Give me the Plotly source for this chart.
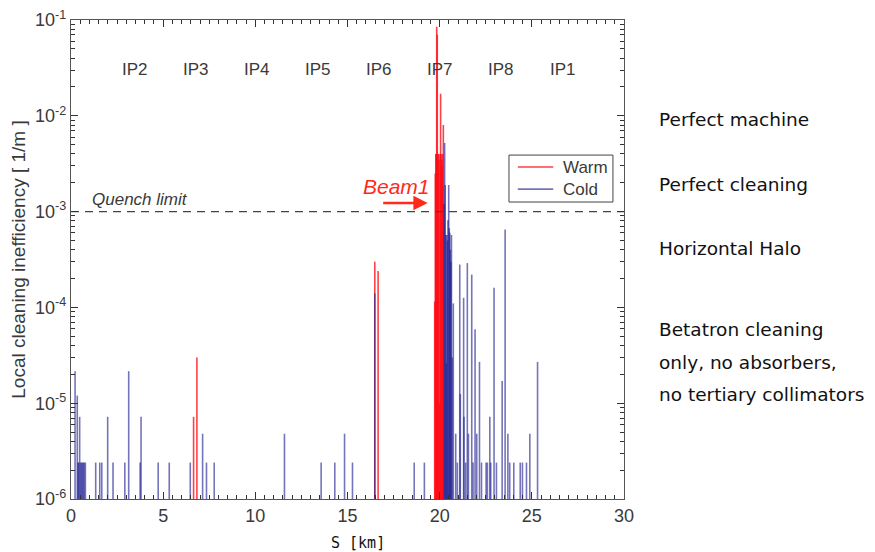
import plotly.graph_objects as go

# ---------------- data (s in km, inefficiency in 1/m) ----------------
warm_s = [6.65, 6.83, 16.48, 16.66,
          19.73, 19.76, 19.79, 19.82, 19.84, 19.87, 19.90, 19.93, 19.96, 19.99,
          20.02, 20.05, 20.08, 20.11, 20.14, 20.17, 20.20]
warm_v = [7.2e-6, 3.0e-5, 3.0e-4, 2.4e-4,
          1.15e-4, 2.5e-3, 4e-3, 4e-3, 8.5e-2, 7.0e-2, 4e-3, 4e-3, 3.5e-3, 1e-5,
          4e-3, 1.7e-2, 4e-3, 3.5e-3, 3e-3, 4e-3, 8e-3]

cold_s = [0.22, 0.34, 0.38, 0.42, 0.47, 0.52, 0.57, 0.62, 0.67, 0.72, 0.78,
          1.34, 1.56, 1.67, 1.99, 2.28, 2.92, 3.13, 3.75, 3.80, 4.73, 5.33,
          6.47, 7.14, 7.35, 7.77, 11.58, 13.57, 14.31, 14.84, 15.27, 16.48,
          18.62, 19.17,
          20.24, 20.27, 20.30, 20.33, 20.36, 20.39, 20.42, 20.45, 20.49, 20.52,
          20.55, 20.58, 20.61, 20.64, 20.68,
          20.74, 20.87, 20.96, 21.09, 21.12, 21.30, 21.32, 21.41, 21.50, 21.56,
          21.74, 21.81, 21.92, 22.01, 22.16, 22.27, 22.52, 22.59, 22.72, 22.77,
          22.95, 23.08, 23.39, 23.55, 23.70, 23.80, 24.02, 24.37, 24.49, 24.71,
          24.89, 25.31]
cold_v = [2.16e-5, 1.2e-5, 2.4e-6, 2.4e-6, 7.2e-6, 2.4e-6, 2.4e-6, 2.4e-6, 2.4e-6, 2.4e-6, 2.4e-6,
          2.4e-6, 2.4e-6, 2.4e-6, 7.2e-6, 2.4e-6, 2.4e-6, 2.16e-5, 2.4e-6, 7.2e-6, 2.4e-6, 2.4e-6,
          2.4e-6, 4.8e-6, 2.4e-6, 2.4e-6, 4.8e-6, 2.4e-6, 2.4e-6, 4.8e-6, 2.4e-6, 1.4e-4,
          2.4e-6, 2.4e-6,
          1.2e-3, 5.2e-3, 1.9e-3, 5.7e-4, 2.6e-5, 5.7e-4, 5.0e-4, 8.1e-4, 1.9e-3, 6.7e-4,
          6.0e-4, 4.0e-4, 3.0e-4, 5.7e-4, 3.0e-5,
          1.1e-4, 4.8e-6, 2.4e-6, 2.8e-4, 1.25e-5, 1.26e-4, 7.2e-6, 2.4e-6, 2.9e-4, 4.8e-6,
          2.2e-4, 2.4e-6, 5.9e-5, 4.8e-6, 2.7e-5, 2.4e-6, 2.4e-6, 2.4e-6, 7.2e-6, 2.4e-6,
          1.6e-4, 2.4e-6, 1.7e-5, 6.5e-4, 4.8e-6, 2.4e-6, 2.4e-6, 2.4e-6, 2.4e-6, 2.4e-6,
          4.8e-6, 2.7e-5]

series_names = ["Warm", "Cold"]
series_colors = ["rgba(255,10,20,0.78)", "rgba(30,30,145,0.62)"]

ip_labels = ["IP2", "IP3", "IP4", "IP5", "IP6", "IP7", "IP8", "IP1"]
ip_s = [3.45, 6.77, 10.08, 13.4, 16.7, 20.0, 23.32, 26.68]

quench_limit = 1e-3
y_floor = 1e-6
y_decades = [-6, -5, -4, -3, -2, -1]
y_ticktext = ["10<sup>-6</sup>", "10<sup>-5</sup>", "10<sup>-4</sup>",
              "10<sup>-3</sup>", "10<sup>-2</sup>", "10<sup>-1</sup>"]

side_notes = ["Perfect machine", "Perfect cleaning", "Horizontal Halo",
              "Betatron cleaning", "only, no absorbers,", "no tertiary collimators"]
side_notes_y = [0.793, 0.656, 0.522, 0.353, 0.286, 0.219]


def spikes(xs, vs):
    px, py = [], []
    for s, v in zip(xs, vs):
        px += [s, s, None]
        py += [y_floor, v, None]
    return px, py


fig = go.Figure()

wx, wy = spikes(warm_s, warm_v)
cx, cy = spikes(cold_s, cold_v)

fig.add_trace(go.Scatter(x=wx, y=wy, mode="lines", name=series_names[0], showlegend=False,
                         line=dict(color=series_colors[0], width=1.6)))
fig.add_trace(go.Scatter(x=cx, y=cy, mode="lines", name=series_names[1], showlegend=False,
                         line=dict(color=series_colors[1], width=1.6)))
fig.add_trace(go.Scatter(x=[0, 30], y=[quench_limit, quench_limit], mode="lines",
                         showlegend=False, hoverinfo="skip",
                         line=dict(color="#444444", width=1.2, dash="8px,6px")))

minor_vals = [m * 10 ** k for k in range(-6, -1) for m in range(2, 10)]

axis_font = dict(family="Liberation Sans, Arial, sans-serif", size=18, color="#3a3a3a")

fig.update_xaxes(range=[0, 30], tickmode="linear", tick0=0, dtick=5, automargin=False,
                 ticks="inside", ticklen=7, tickcolor="#333", tickwidth=1,
                 ticklabeloverflow="allow",
                 minor=dict(ticks="inside", dtick=0.5, ticklen=4, tickcolor="#333"),
                 showline=True, linecolor="#555", linewidth=1.2, mirror="allticks",
                 showgrid=False, zeroline=False, tickfont=axis_font)
fig.update_yaxes(type="log", range=[-6.0002, -0.9998], tickmode="array", automargin=False,
                 tickvals=[10 ** d for d in y_decades], ticktext=y_ticktext,
                 ticks="inside", ticklen=7, tickcolor="#333", tickwidth=1,
                 ticklabeloverflow="allow",
                 minor=dict(ticks="inside", tickmode="array", tickvals=minor_vals,
                            ticklen=4, tickcolor="#333"),
                 showline=True, linecolor="#555", linewidth=1.2, mirror="allticks",
                 showgrid=False, zeroline=False, tickfont=axis_font,
                 title=dict(text="Local cleaning inefficiency [ 1/m ]", standoff=12,
                            font=dict(family="Liberation Sans, Arial, sans-serif",
                                      size=19, color="#3a3a3a")))

ann = []
for lab, s in zip(ip_labels, ip_s):
    ann.append(dict(x=s, y=0.92, xref="x", yref="paper", text=lab, showarrow=False,
                    font=dict(family="Liberation Sans, Arial, sans-serif", size=17,
                              color="#3a3a3a")))
ann.append(dict(x=3.74, y=-3, xref="x", yref="y", text="<i>Quench limit</i>",
                showarrow=False, yanchor="bottom", yshift=1,
                font=dict(family="Liberation Sans, Arial, sans-serif", size=17,
                          color="#3a3a3a")))
ann.append(dict(x=17.65, y=-3, xref="x", yref="y", text="<i>Beam1</i>",
                showarrow=False, yanchor="bottom", yshift=12,
                font=dict(family="Liberation Sans, Arial, sans-serif", size=21,
                          color="#ff2a1a")))
ann.append(dict(x=19.35, y=-2.91, xref="x", yref="y", ax=-46, ay=0, text="",
                showarrow=True, arrowhead=2, arrowsize=1.1, arrowwidth=2.6,
                arrowcolor="#ff2a1a"))
ann.append(dict(x=15.57, y=-0.092, xref="x", yref="paper", text="S [km]",
                showarrow=False, yanchor="middle",
                font=dict(family="DejaVu Sans Mono, monospace", size=15, color="#111")))
for t, yy in zip(side_notes, side_notes_y):
    ann.append(dict(x=1.06, y=yy, xref="paper", yref="paper", text=t, showarrow=False,
                    xanchor="left", yanchor="middle",
                    font=dict(family="DejaVu Sans, sans-serif", size=18.5,
                              color="#111")))

# compact boxed legend as in the original
shapes = [dict(type="rect", xref="paper", yref="paper", x0=0.792, x1=0.980,
               y0=0.620, y1=0.718, line=dict(color="#444", width=1),
               fillcolor="white", layer="above")]
leg_y = [0.693, 0.647]
for name, col, yy in zip(series_names, series_colors, leg_y):
    shapes.append(dict(type="line", xref="paper", yref="paper", x0=0.808, x1=0.872,
                       y0=yy, y1=yy, line=dict(color=col, width=1.6), layer="above"))
    ann.append(dict(x=0.886, y=yy, xref="paper", yref="paper", text=name,
                    showarrow=False, xanchor="left", yanchor="middle",
                    font=dict(family="Liberation Sans, Arial, sans-serif", size=17,
                              color="#3a3a3a")))

fig.update_layout(
    width=867, height=544,
    margin=dict(l=63, r=251, t=12, b=53, autoexpand=False),
    paper_bgcolor="white", plot_bgcolor="white",
    annotations=ann, shapes=shapes, showlegend=False,
)

fig.write_html("out.html")
